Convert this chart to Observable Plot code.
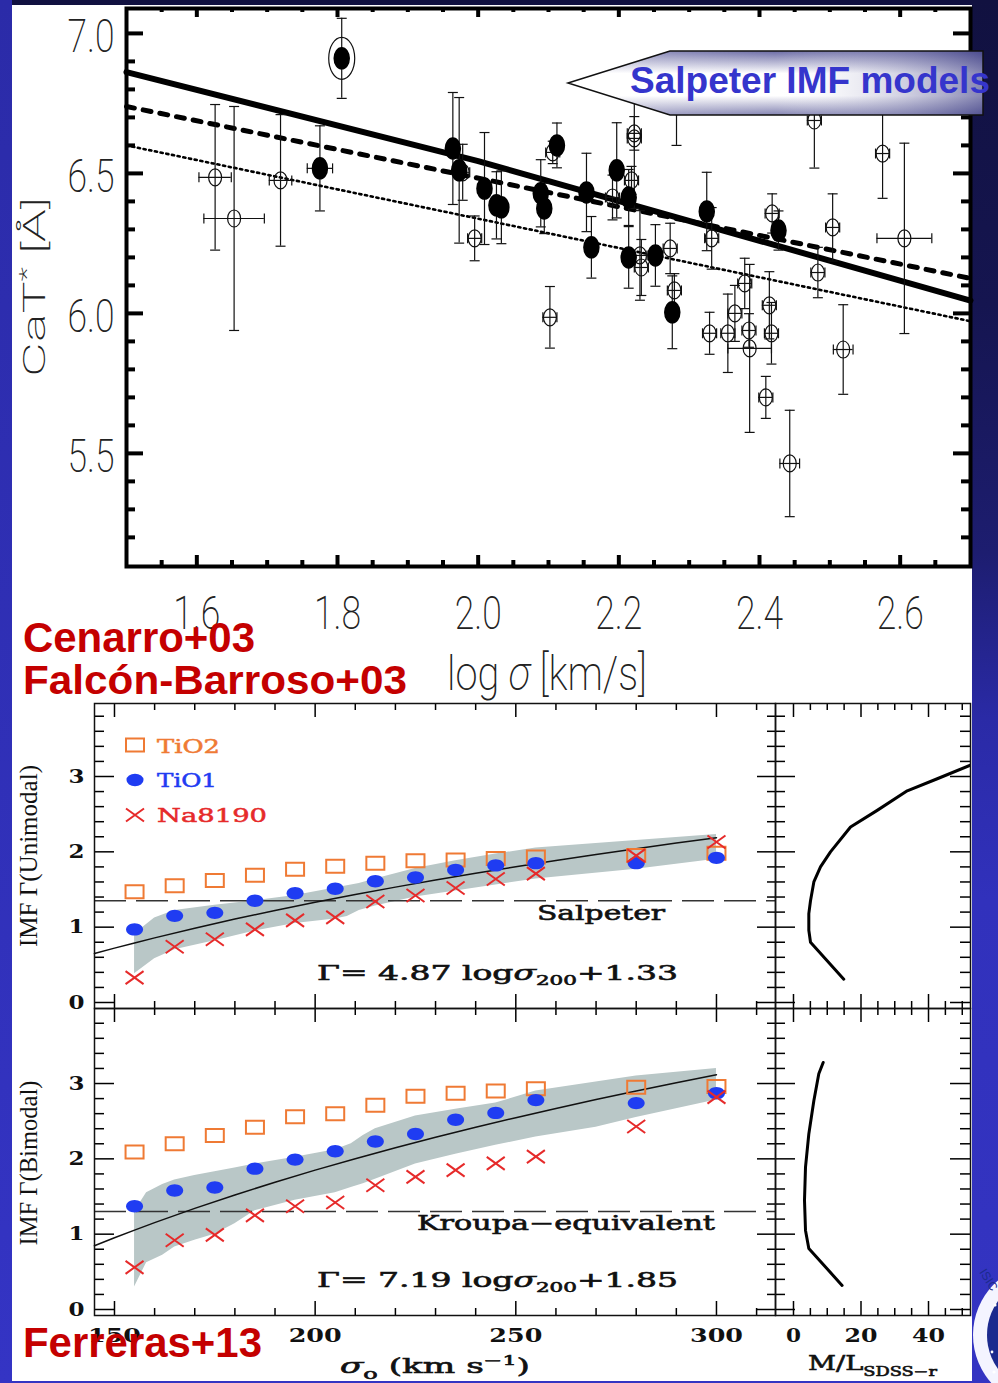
<!DOCTYPE html>
<html>
<head>
<meta charset="utf-8">
<script src="https://cdn.jsdelivr.net/npm/d3@7"></script>
<script src="https://cdn.jsdelivr.net/npm/@observablehq/plot@0.6"></script>
<style>
  body { margin: 0; background: #16164c; }
  #page { position: relative; width: 998px; height: 1383px; overflow: hidden;
    background: linear-gradient(to bottom, #111140 0%, #151550 22%, #1d1d70 40%, #2a2aa6 52%, #3131bc 65%, #3434c2 100%); }
  #leftstrip { position: absolute; left: 0; top: 0; width: 12px; height: 1383px;
    background: linear-gradient(to bottom, #2b2ba8, #3434c4); }
  #paper { position: absolute; left: 12px; top: 5px; width: 960px; height: 1376px; background: #fff; }
</style>
</head>
<body>
<div id="page"><div id="leftstrip"></div><div id="paper"></div></div>
<script>
// ---------- CaT* versus log sigma ----------
const filledLogSigma    = [1.806,1.775,1.964,1.973,2.009,2.026,2.033,2.089,2.094,2.112,2.154,2.197,2.214,2.161,2.214,2.252,2.325,2.427,2.276];
const filledCaT         = [6.911,6.518,6.589,6.511,6.446,6.386,6.379,6.429,6.375,6.600,6.432,6.511,6.414,6.236,6.200,6.207,6.364,6.296,6.004];
const filledCaTErr      = [0.143,0.152,0.20,0.26,0.20,0.12,0.13,0.12,0.09,0.08,0.14,0.17,0.10,0.11,0.11,0.11,0.14,0.07,0.13];
const filledLogSigmaErr = [0,0.018,0,0,0.01,0,0,0,0,0,0,0,0,0,0,0,0,0,0];

const openLogSigma    = [1.626,1.653,1.719,1.978,1.995,2.106,2.102,2.222,2.222,2.218,2.191,2.282,2.478,2.575,2.606,2.504,2.483,2.418,2.414,2.332,2.273,2.279,2.230,2.232,2.379,2.329,2.355,2.365,2.385,2.386,2.417,2.409,2.443,2.519];
const openCaT         = [6.486,6.339,6.475,6.504,6.268,6.575,5.986,6.643,6.625,6.475,6.414,6.74,6.689,6.571,6.268,6.307,6.146,6.357,6.029,6.268,6.232,6.082,6.207,6.164,6.107,5.929,5.929,6.000,5.939,5.875,5.929,5.700,5.464,5.871];
const openCaTErr      = [0.26,0.40,0.235,0.10,0.08,0.04,0.11,0.06,0.25,0.05,0.08,0.14,0.17,0.16,0.34,0.12,0.09,0.07,0.12,0.11,0.09,0.06,0.16,0.10,0.09,0.075,0.14,0.10,0.06,0.30,0.11,0.075,0.19,0.16];
const openLogSigmaErr = [0.023,0.043,0.016,0.01,0.01,0.01,0.01,0.01,0.01,0.01,0.01,0.01,0.01,0.01,0.039,0.01,0.01,0.01,0.01,0.01,0.01,0.01,0.01,0.01,0.01,0.01,0.01,0.01,0.01,0.031,0.01,0.01,0.014,0.014];

// circled outlier
const ringLogSigma = [1.806];
const ringCaT = [6.911];

// Salpeter IMF model predictions
const solidLogSigma  = [1.5, 2.0, 2.7];
const solidCaT       = [6.862, 6.544, 6.046];
const dashedLogSigma = [1.5, 2.7];
const dashedCaT      = [6.739, 6.125];
const dottedLogSigma = [1.5, 2.7];
const dottedCaT      = [6.600, 5.972];

const logSigmaMajor = [1.6, 1.8, 2.0, 2.2, 2.4, 2.6];
const logSigmaMinor = [1.55,1.65,1.7,1.75,1.85,1.9,1.95,2.05,2.1,2.15,2.25,2.3,2.35,2.45,2.5,2.55,2.65];
const catMajor = [5.5, 6.0, 6.5, 7.0];
const catMinor = [5.2,5.3,5.4,5.6,5.7,5.8,5.9,6.1,6.2,6.3,6.4,6.6,6.7,6.8,6.9];

// ---------- IMF slope versus sigma ----------
const sigma = [155,165,175,185,195,205,215,225,235,245,255,280,300];
const uniTiO2   = [1.47,1.55,1.62,1.69,1.77,1.81,1.85,1.88,1.89,1.91,1.93,1.95,1.98];
const uniTiO1   = [0.97,1.15,1.19,1.35,1.45,1.51,1.61,1.66,1.76,1.82,1.85,1.85,1.92];
const uniNa8190 = [0.33,0.74,0.84,0.97,1.09,1.13,1.34,1.42,1.52,1.64,1.71,1.95,2.13];
const biTiO2    = [2.09,2.20,2.31,2.42,2.56,2.60,2.71,2.83,2.87,2.90,2.93,2.95,2.96];
const biTiO1    = [1.37,1.58,1.62,1.87,1.99,2.10,2.23,2.33,2.52,2.61,2.78,2.74,2.87];
const biNa8190  = [0.56,0.92,0.99,1.25,1.37,1.42,1.65,1.76,1.85,1.94,2.03,2.43,2.82];

const uniBandSigma = [155,160,165,175,185,195,205,208,211,215,225,235,245,255,280,300];
const uniBandLow   = [0.38,0.58,0.70,0.82,0.95,1.05,1.11,1.14,1.22,1.28,1.40,1.48,1.56,1.64,1.77,1.90];
const uniBandHigh  = [0.91,1.12,1.22,1.29,1.35,1.42,1.52,1.55,1.58,1.64,1.78,1.88,1.97,2.05,2.15,2.23];
const biBandSigma  = [155,158,162,165,170,175,180,185,195,205,209,212,215,225,235,245,255,270,280,300];
const biBandLow    = [0.30,0.62,0.72,0.83,0.92,1.00,1.14,1.31,1.45,1.55,1.62,1.67,1.73,1.93,2.06,2.18,2.29,2.42,2.55,2.78];
const biBandHigh   = [1.30,1.55,1.66,1.72,1.78,1.83,1.88,1.93,2.02,2.12,2.20,2.31,2.40,2.57,2.66,2.74,2.90,3.02,3.10,3.20];

// Gamma = slope * log(sigma/200) + zero
const uniFit = {slope: 4.87, zero: 1.33};
const biFit  = {slope: 7.19, zero: 1.85};
const fitSigma = [145,150,155,160,170,180,190,200,210,220,230,240,250,260,270,280,290,300];
const salpeterSlope = 1.35;
const kroupaSlope = 1.3;

// M/L profile on the side panels
const uniML    = [14.9,5.04,4.54,4.54,5.04,6.03,8.0,10.96,16.9,24.8,33.7,42.6,52.4];
const uniGamma = [0.31,0.80,0.96,1.18,1.35,1.60,1.80,2.00,2.33,2.55,2.81,2.97,3.15];
const biML     = [14.4,4.54,3.56,3.26,3.56,4.54,6.03,7.5,8.8];
const biGamma  = [0.32,0.81,1.05,1.45,1.89,2.33,2.77,3.13,3.28];

const gammaMajor = [0, 1, 2, 3];
const gammaMinor = [0.2,0.4,0.6,0.8,1.2,1.4,1.6,1.8,2.2,2.4,2.6,2.8,3.2,3.4,3.6,3.8];
const sigmaMajor = [150, 200, 250, 300];
const sigmaMinor = [160,170,180,190,210,220,230,240,260,270,280,290,310];
const mlMajor = [0, 20, 40];
const mlMinor = [5,10,15,25,30,35,45,50];

// ---------- helpers ----------
const ORANGE = "#ef7a34", BLUE = "#1f3cf2", RED = "#e62a2a";
const SERIF = "DejaVu Serif", THIN = "Roboto";
const page = document.getElementById("page");

function mount(node, left, top) {
  const d = document.createElement("div");
  d.style.cssText = `position:absolute;left:${left}px;top:${top}px;`;
  d.appendChild(node);
  page.appendChild(d);
}
// squeeze or stretch every tick label of a plot to a set advance width
function fitLabels(root, widthOf) {
  root.querySelectorAll("text").forEach(t => {
    const w = widthOf(t.textContent);
    if (w == null) return;
    t.setAttribute("textLength", w);
    t.setAttribute("lengthAdjust", "spacingAndGlyphs");
  });
}
const K = 0.5522847498;
const ellipse = (rx, ry) => ({draw(c) {
  c.moveTo(rx, 0);
  c.bezierCurveTo(rx, K * ry, K * rx, ry, 0, ry);
  c.bezierCurveTo(-K * rx, ry, -rx, K * ry, -rx, 0);
  c.bezierCurveTo(-rx, -K * ry, -K * rx, -ry, 0, -ry);
  c.bezierCurveTo(K * rx, -ry, rx, -K * ry, rx, 0);
  c.closePath();
}});
const rect = (w, h) => ({draw(c) { c.moveTo(-w/2, -h/2); c.lineTo(w/2, -h/2); c.lineTo(w/2, h/2); c.lineTo(-w/2, h/2); c.closePath(); }});
const cross = (w, h) => ({draw(c) { c.moveTo(-w/2, -h/2); c.lineTo(w/2, h/2); c.moveTo(-w/2, h/2); c.lineTo(w/2, -h/2); }});
const hbar = (w) => ({draw(c) { c.moveTo(-w/2, 0); c.lineTo(w/2, 0); }});
const vbar = (h) => ({draw(c) { c.moveTo(0, -h/2); c.lineTo(0, h/2); }});
const pairs = (xs, ys) => xs.map((x, i) => ({x, y: ys[i]}));

// inward tick marks on all four sides of a frame
function frameTicks({iw, ih, yMaj, yMin, xMaj, xMin, yL, yR, xT, xB, sw}) {
  return [
    Plot.tickY(yMaj, {insetRight: iw - yL[0], strokeWidth: sw}),
    Plot.tickY(yMin, {insetRight: iw - yL[1], strokeWidth: sw}),
    Plot.tickY(yMaj, {insetLeft: iw - yR[0], strokeWidth: sw}),
    Plot.tickY(yMin, {insetLeft: iw - yR[1], strokeWidth: sw}),
    Plot.tickX(xMaj, {insetBottom: ih - xT[0], strokeWidth: sw}),
    Plot.tickX(xMin, {insetBottom: ih - xT[1], strokeWidth: sw}),
    Plot.tickX(xMaj, {insetTop: ih - xB[0], strokeWidth: sw}),
    Plot.tickX(xMin, {insetTop: ih - xB[1], strokeWidth: sw})
  ];
}

// ---------- top panel ----------
{
  const W = 998, H = 700, ML = 126, MR = 28, MT = 8, MB = 134;
  const iw = W - ML - MR, ih = H - MT - MB;
  const filled = filledLogSigma.map((x, i) => ({x, y: filledCaT[i], ey: filledCaTErr[i], ex: filledLogSigmaErr[i]}));
  const open = openLogSigma.map((x, i) => ({x, y: openCaT[i], ey: openCaTErr[i], ex: openLogSigmaErr[i]}));
  const all = filled.concat(open);
  const withEx = all.filter(d => d.ex > 0);
  const ink = "#111";
  const plot = Plot.plot({
    width: W, height: H, marginLeft: ML, marginRight: MR, marginTop: MT, marginBottom: MB,
    style: {background: "transparent", maxWidth: "none", overflow: "visible"},
    x: {domain: [1.5, 2.7], axis: null},
    y: {domain: [5.096, 7.089], axis: null},
    marks: [
      Plot.line(pairs(dottedLogSigma, dottedCaT), {x: "x", y: "y", strokeWidth: 2.6, strokeDasharray: "2.2,3.6"}),
      Plot.line(pairs(dashedLogSigma, dashedCaT), {x: "x", y: "y", strokeWidth: 5, strokeDasharray: "8,9"}),
      Plot.line(pairs(solidLogSigma, solidCaT), {x: "x", y: "y", strokeWidth: 6}),
      Plot.ruleX(all, {x: "x", y1: d => d.y - d.ey, y2: d => d.y + d.ey, stroke: ink, strokeWidth: 1.2}),
      Plot.dot(all, {x: "x", y: d => d.y - d.ey, symbol: hbar(10), stroke: ink, strokeWidth: 1.2}),
      Plot.dot(all, {x: "x", y: d => d.y + d.ey, symbol: hbar(10), stroke: ink, strokeWidth: 1.2}),
      Plot.ruleY(withEx, {y: "y", x1: d => d.x - d.ex, x2: d => d.x + d.ex, stroke: ink, strokeWidth: 1.2}),
      Plot.dot(withEx, {x: d => d.x - d.ex, y: "y", symbol: vbar(10), stroke: ink, strokeWidth: 1.2}),
      Plot.dot(withEx, {x: d => d.x + d.ex, y: "y", symbol: vbar(10), stroke: ink, strokeWidth: 1.2}),
      Plot.dot(open, {x: "x", y: "y", symbol: ellipse(6.5, 8.5), fill: "none", stroke: ink, strokeWidth: 1.2}),
      Plot.dot(filled, {x: "x", y: "y", symbol: ellipse(7.5, 10.5), fill: "#000", stroke: "#000"}),
      Plot.dot(pairs(ringLogSigma, ringCaT), {x: "x", y: "y", symbol: ellipse(13, 21), fill: "none", stroke: ink, strokeWidth: 1.2}),
      ...frameTicks({iw, ih, yMaj: catMajor, yMin: catMinor, xMaj: logSigmaMajor, xMin: logSigmaMinor,
                     yL: [17, 9], yR: [17, 9], xT: [9, 4], xB: [11, 6], sw: 4}),
      Plot.frame({stroke: "#000", strokeWidth: 4}),
      Plot.text(logSigmaMajor, {x: d => d, text: d => d.toFixed(1), frameAnchor: "bottom", dy: 62,
        fontFamily: THIN, fontWeight: 200, fontSize: 46, fill: "#222"}),
      Plot.text(catMajor, {y: d => d, text: d => d.toFixed(1), frameAnchor: "left", textAnchor: "end", dx: -12, dy: 4,
        fontFamily: THIN, fontWeight: 200, fontSize: 46, fill: "#222"})
    ]
  });
  fitLabels(plot, s => /^\d\.\d$/.test(s) ? 47 : null);
  mount(plot, 0, 0);
}

// ---------- IMF slope panels ----------
function gammaPanel({height, marginBottom, yDomain, bandS, bandLo, bandHi, tio2, tio1, na, fit, ref, sigmaLabels}) {
  const W = 780, ML = 94, MR = 5, MT = 8;
  const iw = W - ML - MR, ih = height - MT - marginBottom;
  const pts = vals => sigma.map((s, i) => ({s, g: vals[i]}));
  const band = bandS.map((s, i) => ({s, lo: bandLo[i], hi: bandHi[i]}));
  const fitLine = fitSigma.map(s => ({s, g: fit.slope * Math.log10(s / 200) + fit.zero}));
  const plot = Plot.plot({
    width: W, height, marginLeft: ML, marginRight: MR, marginTop: MT, marginBottom,
    style: {background: "transparent", maxWidth: "none", overflow: "visible"},
    x: {domain: [145.02, 314.71], axis: null},
    y: {domain: yDomain, axis: null},
    marks: [
      Plot.areaY(band, {x: "s", y1: "lo", y2: "hi", fill: "#b9c7c7"}),
      Plot.ruleY([ref], {stroke: "#333", strokeWidth: 1.5, strokeDasharray: "32,10"}),
      Plot.line(fitLine, {x: "s", y: "g", stroke: "#111", strokeWidth: 1.5}),
      Plot.dot(pts(tio2), {x: "s", y: "g", symbol: rect(18, 13), fill: "none", stroke: ORANGE, strokeWidth: 2}),
      Plot.dot(pts(tio1), {x: "s", y: "g", symbol: ellipse(8.5, 6.2), fill: BLUE, stroke: "none"}),
      Plot.dot(pts(na), {x: "s", y: "g", symbol: cross(18, 13), fill: "none", stroke: RED, strokeWidth: 2}),
      ...frameTicks({iw, ih, yMaj: gammaMajor, yMin: gammaMinor, xMaj: sigmaMajor, xMin: sigmaMinor,
                     yL: [20, 10], yR: [18, 8], xT: [14, 7], xB: [14, 7], sw: 1.5}),
      Plot.frame({stroke: "#111", strokeWidth: 1.5}),
      Plot.text(gammaMajor, {y: d => d, text: d => String(d), frameAnchor: "left", dx: -26,
        fontFamily: SERIF, fontWeight: "bold", fontSize: 19, fill: "#111"}),
      ...(sigmaLabels ? [Plot.text(sigmaMajor, {x: d => d, text: d => String(d), frameAnchor: "bottom", dy: 26,
        fontFamily: SERIF, fontWeight: "bold", fontSize: 19, fill: "#111"})] : [])
    ]
  });
  fitLabels(plot, s => s.length === 1 ? 16 : s.length === 3 ? 53 : null);
  return plot;
}

function mlPanel({height, marginBottom, yDomain, ml, gamma, mlLabels}) {
  const W = 228, ML = 5, MR = 28, MT = 8;
  const iw = W - ML - MR, ih = height - MT - marginBottom;
  const plot = Plot.plot({
    width: W, height, marginLeft: ML, marginRight: MR, marginTop: MT, marginBottom,
    style: {background: "transparent", maxWidth: "none", overflow: "visible"},
    x: {domain: [-5.33, 52.44], axis: null},
    y: {domain: yDomain, axis: null},
    marks: [
      Plot.line(pairs(ml, gamma), {x: "x", y: "y", stroke: "#000", strokeWidth: 3, clip: true}),
      ...frameTicks({iw, ih, yMaj: gammaMajor, yMin: gammaMinor, xMaj: mlMajor, xMin: mlMinor,
                     yL: [20, 10], yR: [20, 10], xT: [14, 7], xB: [14, 7], sw: 1.5}),
      Plot.frame({stroke: "#111", strokeWidth: 1.5}),
      ...(mlLabels ? [Plot.text(mlMajor, {x: d => d, text: d => String(d), frameAnchor: "bottom", dy: 26,
        fontFamily: SERIF, fontWeight: "bold", fontSize: 19, fill: "#111"})] : [])
    ]
  });
  fitLabels(plot, s => s.length === 1 ? 15 : s.length === 2 ? 33 : null);
  return plot;
}

mount(gammaPanel({height: 320, marginBottom: 7, yDomain: [-0.0797, 3.969],
  bandS: uniBandSigma, bandLo: uniBandLow, bandHi: uniBandHigh,
  tio2: uniTiO2, tio1: uniTiO1, na: uniNa8190, fit: uniFit, ref: salpeterSlope, sigmaLabels: false}), 0, 695);
mount(gammaPanel({height: 383, marginBottom: 68, yDomain: [-0.0797, 3.996],
  bandS: biBandSigma, bandLo: biBandLow, bandHi: biBandHigh,
  tio2: biTiO2, tio1: biTiO1, na: biNa8190, fit: biFit, ref: kroupaSlope, sigmaLabels: true}), 0, 1000);
mount(mlPanel({height: 320, marginBottom: 7, yDomain: [-0.0797, 3.969], ml: uniML, gamma: uniGamma, mlLabels: false}), 770, 695);
mount(mlPanel({height: 383, marginBottom: 68, yDomain: [-0.0797, 3.996], ml: biML, gamma: biGamma, mlLabels: true}), 770, 1000);

// ---------- titles, legend and annotations ----------
const fmt = (v) => v.toFixed(2);
const overlay = `
<svg xmlns="http://www.w3.org/2000/svg" width="998" height="1383" style="position:absolute;left:0;top:0;pointer-events:none">
  <defs>
    <linearGradient id="calloutV" x1="0" y1="0" x2="0" y2="1">
      <stop offset="0" stop-color="#6c6ca6"/><stop offset="0.35" stop-color="#ffffff"/>
      <stop offset="0.7" stop-color="#ffffff"/><stop offset="1" stop-color="#8585b3"/>
    </linearGradient>
    <linearGradient id="calloutH" x1="0" y1="0" x2="1" y2="0">
      <stop offset="0" stop-color="#ffffff" stop-opacity="0.35"/><stop offset="0.5" stop-color="#ffffff" stop-opacity="0"/>
      <stop offset="1" stop-color="#34347e" stop-opacity="0.6"/>
    </linearGradient>
  </defs>
  <g font-family="${THIN}" font-weight="200" fill="#222">
    <text transform="translate(33,287) rotate(-90)" text-anchor="middle" dy="0.36em" font-size="32" textLength="180" lengthAdjust="spacingAndGlyphs">CaT<tspan dy="-11" font-size="20">*</tspan><tspan dy="11"> [Å]</tspan></text>
    <text x="547" y="690" text-anchor="middle" font-size="48" textLength="200" lengthAdjust="spacingAndGlyphs">log <tspan font-style="italic">σ</tspan> [km/s]</text>
  </g>
  <g font-family="Liberation Serif" fill="#111" font-size="25">
    <text transform="translate(37,856) rotate(-90)" text-anchor="middle" textLength="182" lengthAdjust="spacingAndGlyphs">IMF Γ(Unimodal)</text>
    <text transform="translate(37,1163) rotate(-90)" text-anchor="middle" textLength="165" lengthAdjust="spacingAndGlyphs">IMF Γ(Bimodal)</text>
  </g>
  <g font-family="${SERIF}" font-size="19" style="white-space:pre">
    <path d="M126,738.5h18v13h-18z" fill="none" stroke="${ORANGE}" stroke-width="2"/>
    <ellipse cx="135" cy="780" rx="8.5" ry="6.2" fill="${BLUE}"/>
    <path d="M126,808.5l18,13M126,821.5l18,-13" stroke="${RED}" stroke-width="2"/>
    <text x="157" y="753" fill="${ORANGE}" stroke="${ORANGE}" stroke-width="0.5" textLength="63" lengthAdjust="spacingAndGlyphs">TiO2</text>
    <text x="157" y="787" fill="${BLUE}" stroke="${BLUE}" stroke-width="0.5" textLength="60" lengthAdjust="spacingAndGlyphs">TiO1</text>
    <text x="157" y="822" fill="${RED}" stroke="${RED}" stroke-width="0.5" textLength="110" lengthAdjust="spacingAndGlyphs">Na8190</text>
    <g fill="#111" stroke="#111" stroke-width="0.6" font-size="20">
      <text x="537" y="920" textLength="128" lengthAdjust="spacingAndGlyphs">Salpeter</text>
      <text x="417" y="1230" textLength="298" lengthAdjust="spacingAndGlyphs">Kroupa−equivalent</text>
      <text x="317" y="980" textLength="361" lengthAdjust="spacingAndGlyphs">Γ=  ${uniFit.slope.toFixed(2)} log<tspan font-style="italic">σ</tspan><tspan font-size="13" dy="5">200</tspan><tspan dy="-5">+${fmt(uniFit.zero)}</tspan></text>
      <text x="317" y="1287" textLength="361" lengthAdjust="spacingAndGlyphs">Γ=  ${biFit.slope.toFixed(2)} log<tspan font-style="italic">σ</tspan><tspan font-size="13" dy="5">200</tspan><tspan dy="-5">+${fmt(biFit.zero)}</tspan></text>
      <text x="340" y="1373" textLength="190" lengthAdjust="spacingAndGlyphs"><tspan font-style="italic">σ</tspan><tspan font-size="14" dy="6">o</tspan><tspan dy="-6">  (km s</tspan><tspan font-size="13" dy="-8">−1</tspan><tspan dy="8">)</tspan></text>
      <text x="808" y="1370" textLength="129" lengthAdjust="spacingAndGlyphs">M/L<tspan font-size="13" dy="6">SDSS−r</tspan></text>
    </g>
  </g>
  <polygon points="568,83 670,51 983,51 983,115 670,115" fill="url(#calloutV)"/>
  <polygon points="568,83 670,51 983,51 983,115 670,115" fill="url(#calloutH)" stroke="#111" stroke-width="1.5"/>
  <text x="630" y="93" font-family="Liberation Sans" font-weight="bold" font-size="36" fill="#3535cc" textLength="360" lengthAdjust="spacingAndGlyphs">Salpeter IMF models</text>
  <g font-family="Liberation Sans" font-weight="bold" fill="#c40000">
    <text x="23" y="652" font-size="42" textLength="232" lengthAdjust="spacingAndGlyphs">Cenarro+03</text>
    <text x="23" y="694" font-size="41" textLength="384" lengthAdjust="spacingAndGlyphs">Falcón-Barroso+03</text>
    <text x="23" y="1357" font-size="42" textLength="239" lengthAdjust="spacingAndGlyphs">Ferreras+13</text>
  </g>
  <g>
    <circle cx="1045" cy="1335" r="72" fill="#f4f4ff"/>
    <circle cx="1045" cy="1335" r="58" fill="#1c2a8e"/>
    <text transform="translate(979,1272) rotate(58)" font-family="Liberation Sans" font-size="12" fill="#1c2a8e">ISIC</text>
    <g fill="#fff"><circle cx="995" cy="1305" r="1.6"/><circle cx="1000" cy="1330" r="2"/><circle cx="992" cy="1352" r="1.4"/><circle cx="1008" cy="1290" r="1.4"/><circle cx="994" cy="1372" r="1.6"/></g>
  </g>
</svg>`;
page.insertAdjacentHTML("beforeend", overlay);
</script>
</body>
</html>
